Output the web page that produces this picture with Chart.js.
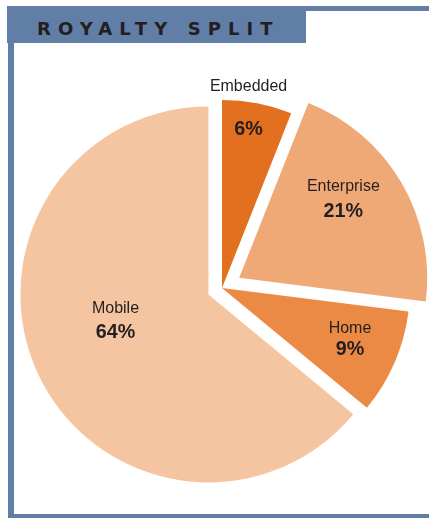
<!DOCTYPE html>
<html>
<head>
<meta charset="utf-8">
<script src="https://cdn.jsdelivr.net/npm/chart.js@4"></script>
<style>
  html, body { margin: 0; padding: 0; background: #fff; }
  #wrap { position: relative; width: 429px; height: 518px; overflow: hidden; }
  .rule { position: absolute; background: #617ea7; }
  #title {
    position: absolute; left: 7px; top: 6px; width: 299px; height: 37px;
    background: #617ea7; box-sizing: border-box; padding: 4px 0 0 30px;
    font: bold 18px "DejaVu Sans", "Liberation Sans", sans-serif; letter-spacing: 7.1px;
    color: #231f20; line-height: 38px; white-space: nowrap; overflow: hidden;
  }
  canvas { position: absolute; left: 0; top: 0; }
</style>
</head>
<body>
<div id="wrap">
  <div class="rule" style="left:7px; top:6px; width:422px; height:5px;"></div>
  <div class="rule" style="left:8px; top:40px; width:6px; height:478px;"></div>
  <div class="rule" style="left:8px; top:514px; width:421px; height:4px;"></div>
  <div id="title">ROYALTY SPLIT</div>
  <canvas id="myChart" width="429" height="518"></canvas>
</div>

<script>
// royalty share by segment, percent
const segments = ['Embedded', 'Enterprise', 'Home', 'Mobile'];
const shares = [6, 21, 9, 64];

const sliceColors = ['#e2701e', '#efa976', '#eb8a45', '#f5c4a0'];
// how far each wedge is pulled out from the centre (px)
const explode = [0, 20, 0, 15];
// where the label block sits: degrees clockwise from 12 o'clock, fraction of radius, gap between lines
const labelAngle = [8.3, 52.1, 111.2, 255.3];
const labelRadius = [0.978, 0.702, 0.730, 0.511];
const labelGap = [42, 24.4, 20.5, 24];

const FONT = '"Liberation Sans", Arial, sans-serif';

const shiftOf = (arc, d) => {
  const mid = (arc.startAngle + arc.endAngle) / 2;
  return { x: Math.cos(mid) * d, y: Math.sin(mid) * d };
};

// pull wedges apart without growing them (the built-in offset also enlarges big slices)
const explodePlugin = {
  id: 'explode',
  beforeDatasetsDraw(chart) {
    chart.getDatasetMeta(0).data.forEach((arc, i) => {
      if (arc._wrapped) return;
      const draw = arc.draw;
      arc.draw = function (ctx, area) {
        const s = shiftOf(this, explode[i]);
        ctx.save();
        ctx.translate(s.x, s.y);
        draw.call(this, ctx, area);
        ctx.restore();
      };
      arc._wrapped = true;
    });
  }
};

const drawText = (ctx, text, x, capMid, size, weight) => {
  ctx.save();
  ctx.font = weight + ' ' + size + 'px ' + FONT;
  ctx.translate(x, capMid + size * 0.72 / 2);
  ctx.scale(0.94, 1);
  ctx.textAlign = 'center';
  ctx.textBaseline = 'alphabetic';
  ctx.fillStyle = '#231f20';
  ctx.fillText(text, 0, 0);
  ctx.restore();
};

const sliceLabels = {
  id: 'sliceLabels',
  afterDatasetsDraw(chart) {
    const ctx = chart.ctx;
    chart.getDatasetMeta(0).data.forEach((arc, i) => {
      const s = shiftOf(arc, explode[i]);
      const t = labelAngle[i] * Math.PI / 180 - Math.PI / 2;
      const r = labelRadius[i] * arc.outerRadius;
      const x = arc.x + s.x + Math.cos(t) * r;
      const y = arc.y + s.y + Math.sin(t) * r;
      drawText(ctx, segments[i], x, y - labelGap[i] / 2, 17, 'normal');
      drawText(ctx, shares[i] + '%', x, y + labelGap[i] / 2, 21, 'bold');
    });
  }
};

const ctx = document.getElementById('myChart');

new Chart(ctx, {
  type: 'pie',
  data: {
    labels: segments,
    datasets: [{
      data: shares,
      backgroundColor: sliceColors,
      borderWidth: 0,
      clip: false
    }]
  },
  options: {
    responsive: false,
    animation: false,
    events: [],
    radius: 188,
    layout: { padding: { left: 15, right: 0, top: 58, bottom: 0 } },
    plugins: {
      legend: { display: false },
      tooltip: { enabled: false }
    }
  },
  plugins: [explodePlugin, sliceLabels]
});
</script>
</body>
</html>
